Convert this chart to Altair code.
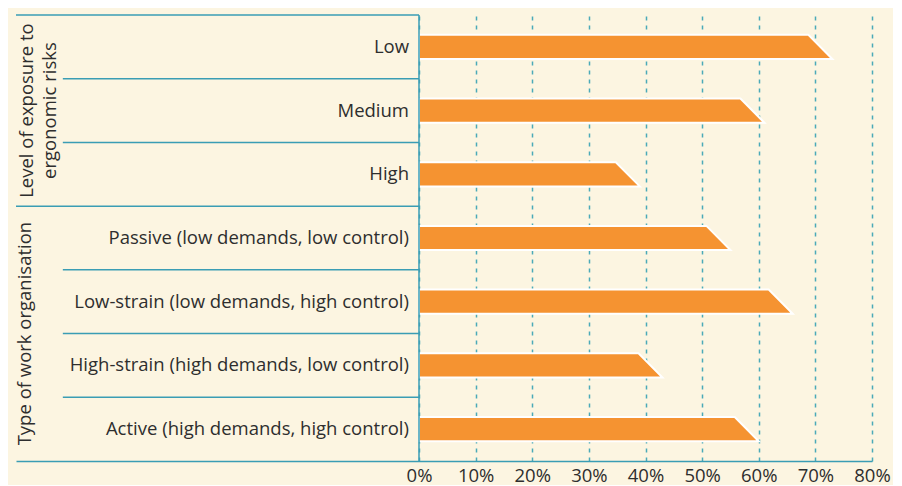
import altair as alt
import pandas as pd

categories = [
    "Low",
    "Medium",
    "High",
    "Passive (low demands, low control)",
    "Low-strain (low demands, high control)",
    "High-strain (high demands, low control)",
    "Active (high demands, high control)",
]
values = [73, 61, 39, 55, 66, 43, 60]
group_titles = ["Level of exposure to\nergonomic risks", "Type of work organisation"]
group_sizes = [3, 4]
x_ticks = [0, 10, 20, 30, 40, 50, 60, 70, 80]

ORANGE = "#F59331"
TEAL = "#3A9DB4"
GRID = "#4AAAB9"
TEXT = "#2E2E2E"
BG = "#FCF5E1"
FONT = "Open Sans"
FS = 18.5

n = len(categories)
XMIN = -71.17
half = 0.19           # half bar thickness in row units
slant = 4.24          # slanted end length in % units

bar_rows = []
for i, (c, v) in enumerate(zip(categories, values)):
    bar_rows.append({"cat": c, "y": i + 0.5 - half, "x0": 0, "x1": v - slant})
    bar_rows.append({"cat": c, "y": i + 0.5 + half, "x0": 0, "x1": v})
bars_df = pd.DataFrame(bar_rows)

labels_df = pd.DataFrame({"cat": categories, "y": [i + 0.5 for i in range(n)], "x": [0] * n})

# separators
sep_rows = [{"y": 0, "x": XMIN, "x2": 0}]
start = 0
for gi, size in enumerate(group_sizes):
    for k in range(1, size):
        sep_rows.append({"y": start + k, "x": -62.9, "x2": 0})
    start += size
    if gi < len(group_sizes) - 1:
        sep_rows.append({"y": start, "x": XMIN, "x2": 0})
sep_df = pd.DataFrame(sep_rows)

gt_rows = []
start = 0
gx = [-69.2, -69.6]
for gi, (t, size) in enumerate(zip(group_titles, group_sizes)):
    gt_rows.append({"t": t, "y": start + size / 2, "x": gx[gi]})
    start += size
gt_df = pd.DataFrame(gt_rows)

xscale = alt.Scale(domain=[XMIN, 80], nice=False, zero=False)
yscale = alt.Scale(domain=[0, n], reverse=True, nice=False, zero=False)

base_x_axis = alt.Axis(
    values=x_ticks,
    labelExpr="datum.value + '%'",
    labelFlush=False,
    labelOverlap=False,
    grid=True,
    gridDash=[4, 5],
    gridColor=GRID,
    gridWidth=1.5,
    ticks=False,
    domainColor=TEAL,
    domainWidth=1.5,
    labelFont=FONT,
    labelFontSize=FS,
    labelColor=TEXT,
    labelPadding=5,
    title=None,
)

bars = alt.Chart(bars_df).mark_area(
    orient="horizontal", color=ORANGE, stroke="white", strokeWidth=2, opacity=1
).encode(
    y=alt.Y("y:Q", scale=yscale, axis=None),
    x=alt.X("x0:Q", scale=xscale, axis=base_x_axis),
    x2="x1:Q",
    detail="cat:N",
)

seps = alt.Chart(sep_df).mark_rule(color=TEAL, strokeWidth=1.5).encode(
    y=alt.Y("y:Q", scale=yscale, axis=None),
    x=alt.X("x:Q", scale=xscale),
    x2="x2:Q",
)

vline = alt.Chart(pd.DataFrame({"x": [0], "y": [0], "y2": [n]})).mark_rule(
    color=TEAL, strokeWidth=1.5
).encode(
    x=alt.X("x:Q", scale=xscale),
    y=alt.Y("y:Q", scale=yscale, axis=None),
    y2="y2:Q",
)

labels = alt.Chart(labels_df).mark_text(
    align="right", baseline="middle", dx=-10, font=FONT, fontSize=FS, color=TEXT
).encode(
    x=alt.X("x:Q", scale=xscale),
    y=alt.Y("y:Q", scale=yscale, axis=None),
    text="cat:N",
)

gtitles = alt.Chart(gt_df).mark_text(
    angle=270, align="center", baseline="middle", font=FONT, fontSize=FS,
    color=TEXT, lineBreak="\n", lineHeight=23
).encode(
    x=alt.X("x:Q", scale=xscale),
    y=alt.Y("y:Q", scale=yscale, axis=None),
    text="t:N",
)

chart = alt.layer(bars, seps, vline, labels, gtitles).properties(
    width=856, height=446, background=BG,
    padding={"left": 7, "top": 6, "right": 2, "bottom": 0},
).configure_view(strokeWidth=0)

chart.save("out.html", embed_options={"renderer": "svg", "actions": False})
